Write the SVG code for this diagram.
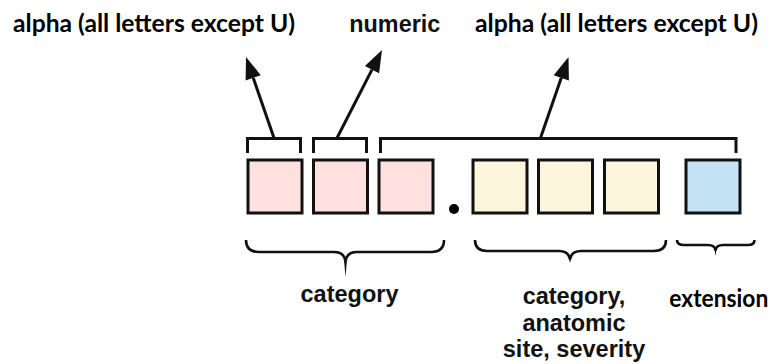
<svg xmlns="http://www.w3.org/2000/svg" width="773" height="364" viewBox="0 0 773 364">
<style>
.box{stroke:#111;stroke-width:3}
.pink{fill:#FEE1DE}
.yellow{fill:#FEF5DD}
.blue{fill:#C3E3F5}
.br{fill:none;stroke:#111;stroke-width:3}
.brace{fill:none;stroke:#111;stroke-width:2.6;stroke-linejoin:round}
.cal{font-family:Lato,"Open Sans","Liberation Sans",sans-serif;font-weight:bold;font-size:24px;fill:#000}
.ari{font-family:"Liberation Sans",Arial,sans-serif;font-weight:bold;font-size:23.5px;fill:#111}
</style>
<rect width="773" height="364" fill="#fff"/>
<g id="label-alpha1"><text class="cal" x="13" y="32" textLength="282" lengthAdjust="spacingAndGlyphs">alpha (all letters except U)</text></g>
<g id="label-numeric"><text class="ari" x="349.3" y="32" textLength="91" lengthAdjust="spacingAndGlyphs">numeric</text></g>
<g id="label-alpha2"><text class="cal" x="475" y="32" textLength="283" lengthAdjust="spacingAndGlyphs">alpha (all letters except U)</text></g>
<g id="box1"><rect class="box pink" x="248" y="160" width="54" height="53"/></g>
<g id="box2"><rect class="box pink" x="313.5" y="160" width="54" height="53"/></g>
<g id="box3"><rect class="box pink" x="379" y="160" width="54" height="53"/></g>
<g id="dot"><circle cx="454" cy="209" r="5" fill="#000"/></g>
<g id="box4"><rect class="box yellow" x="473" y="160" width="54" height="53"/></g>
<g id="box5"><rect class="box yellow" x="538.5" y="160" width="54" height="53"/></g>
<g id="box6"><rect class="box yellow" x="604.5" y="160" width="54" height="53"/></g>
<g id="box7"><rect class="box blue" x="686" y="160" width="54" height="53"/></g>
<g id="connectors">
<path class="br" d="M247.5,153 V138.5 H300.5 V153"/>
<path class="br" d="M313.5,153 V138.5 H366.5 V153"/>
<path class="br" d="M380.5,153 V138.5 H736 V153"/>
<line x1="274" y1="138" x2="253.2" y2="77.8" stroke="#111" stroke-width="3"/>
<polygon points="246,57 260.8,75.2 245.6,80.4" fill="#111"/>
<line x1="337" y1="138" x2="372" y2="69.6" stroke="#111" stroke-width="3"/>
<polygon points="382,50 379.1,73.2 364.9,66" fill="#111"/>
<line x1="540.5" y1="138" x2="561.3" y2="77.8" stroke="#111" stroke-width="3"/>
<polygon points="568.5,57 568.9,80.4 553.7,75.2" fill="#111"/>
<path class="brace" d="M246,240 C246,248 250,252 259,252 H334 C341,252 345,255 345.5,262 C346,255 350,252 357,252 H431 C440,252 444,248 444,240"/>
<path d="M344.2,262 L345.5,277 L346.8,262 Z" fill="#111"/>
<path class="brace" d="M475,240 C475,247 479,251 487,251 H559 C565,251 569,254 570,259 C571,254 575,251 581,251 H654 C662,251 666,247 666,240"/>
<path d="M568.8,258 L570,263 L571.2,258 Z" fill="#111"/>
<path class="brace" d="M677,240 C677,243 679,245 684,245 H708 C712,245 715,247 715.5,250 C716,247 719,245 723,245 H748 C753,245 754.5,243 754.5,240"/>
<path d="M714.5,249 L715.5,256 L716.5,249 Z" fill="#111"/>
</g>
<g id="label-category"><text class="ari" x="349.5" y="302" text-anchor="middle">category</text></g>
<g id="label-category2"><text class="ari" text-anchor="middle"><tspan x="574" y="304">category,</tspan><tspan x="574" y="331">anatomic</tspan><tspan x="574" y="357">site, severity</tspan></text></g>
<g id="label-extension"><text class="cal" x="669.3" y="307" textLength="99" lengthAdjust="spacingAndGlyphs">extension</text></g>
</svg>
